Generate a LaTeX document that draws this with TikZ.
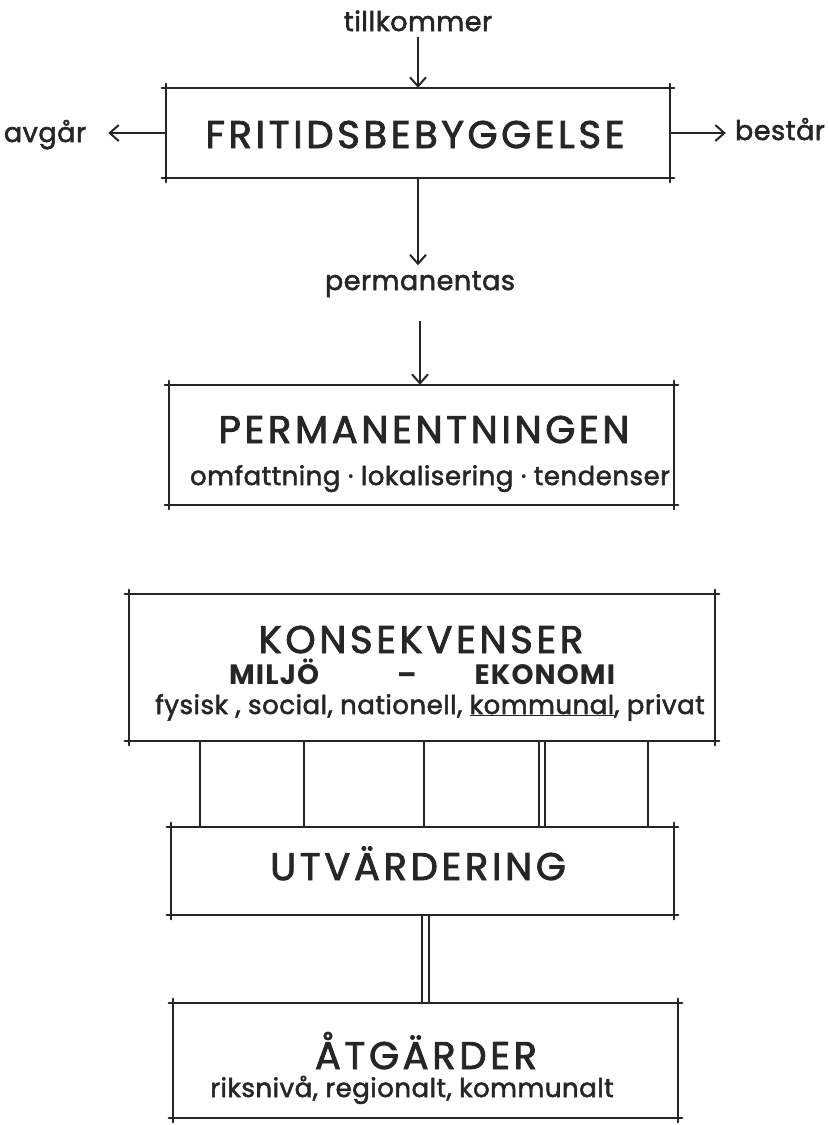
\documentclass[tikz,border=0pt]{standalone}
\usepackage{fontspec}
\setmainfont{Poppins}[LetterSpace=2, RawFeature={embolden=2}]
\newfontfamily\titlefont{Poppins}[LetterSpace=9.5, RawFeature={embolden=2.2}]
\newfontfamily\markfont{Poppins}[LetterSpace=4, UprightFont=*, BoldFont=* Bold]
\usetikzlibrary{arrows.meta,positioning,calc}

\begin{document}
\begin{tikzpicture}[
    x=1pt, y=1pt,
    box/.style={rectangle, inner sep=0pt},
    boxline/.style={line width=2.3pt, line cap=round, shorten <=-4pt, shorten >=-4pt},
    arrow/.style={-{Straight Barb[length=9pt, width=16pt, line width=2pt]}, line width=2pt},
    link/.style={line width=2.3pt},
    title/.style={anchor=base, inner sep=0pt, font=\titlefont\fontsize{38.5}{40}\selectfont},
    subtitle/.style={anchor=base, inner sep=0pt, font=\fontsize{26}{30}\selectfont},
    word/.style={anchor=base, inner sep=0pt, font=\fontsize{27}{30}\selectfont}
]
\useasboundingbox (0,0) rectangle (829,-1125);
\color{black!85}

% boxes
\node[box, minimum width=504pt, minimum height=90pt] (frit) at (418,-133) {};
\node[box, minimum width=505pt, minimum height=120pt] (perm) at (421.5,-445) {};
\node[box, minimum width=586pt, minimum height=147pt] (kons) at (422,-667.5) {};
\node[box, minimum width=503pt, minimum height=88pt] (utv) at (422.5,-871) {};
\node[box, minimum width=505pt, minimum height=115pt] (atg) at (425.5,-1060.5) {};

\foreach \b in {frit,perm,kons,utv,atg} {
  \draw[boxline] (\b.north west) -- (\b.north east);
  \draw[boxline] (\b.south west) -- (\b.south east);
  \draw[boxline] (\b.north west) -- (\b.south west);
  \draw[boxline] (\b.north east) -- (\b.south east);
}

% texts in boxes
\node[title] (fritT) at (415,-148) {FRITIDSBEBYGGELSE};
\node[title] (permT) at (424,-443) {PERMANENTNINGEN};
\node[subtitle] (permS) at (430,-485) {omfattning · lokalisering · tendenser};
\node[title] (konsT) at (421,-653) {KONSEKVENSER};
\node[subtitle, anchor=base west, font=\markfont\fontsize{28}{30}\selectfont\bfseries] (konsM) at (229,-684)
  {MILJÖ\hspace{78pt}–\hspace{58pt}EKONOMI};
\node[subtitle] (konsS) at (430,-714) {fysisk , social, nationell, \underline{kommunal}, privat};
\node[title] (utvT) at (418,-880) {UTVÄRDERING};
\node[title] (atgT) at (426,-1069) {ÅTGÄRDER};
\node[subtitle] (atgS) at (412,-1097) {riksnivå, regionalt, kommunalt};

% labels outside
\node[word] (tillk) at (418,-31) {tillkommer};
\node[word] (avgar) at (45,-142) {avgår};
\node[word] (bestar) at (780,-140) {består};
\node[word] (perma) at (420,-290) {permanentas};

% arrows
\draw[arrow, shorten <=6pt] (tillk.south) -- (tillk.south |- frit.north);
\draw[arrow, shorten >=22pt] (frit.west) -- (avgar.east |- frit.west);
\draw[arrow, shorten >=9pt] (frit.east) -- (bestar.west |- frit.east);
\draw[arrow, shorten >=6pt] (frit.south) -- (frit.south |- perma.north);
\draw[arrow, shorten <=24pt] (perma.south) -- (perma.south |- perm.north);

% links
\foreach \x in {200,304,424,539,545,648}
  \draw[link] (\x,0 |- kons.south) -- (\x,0 |- utv.north);
\foreach \x in {422,429}
  \draw[link] (\x,0 |- utv.south) -- (\x,0 |- atg.north);
\end{tikzpicture}
\end{document}
